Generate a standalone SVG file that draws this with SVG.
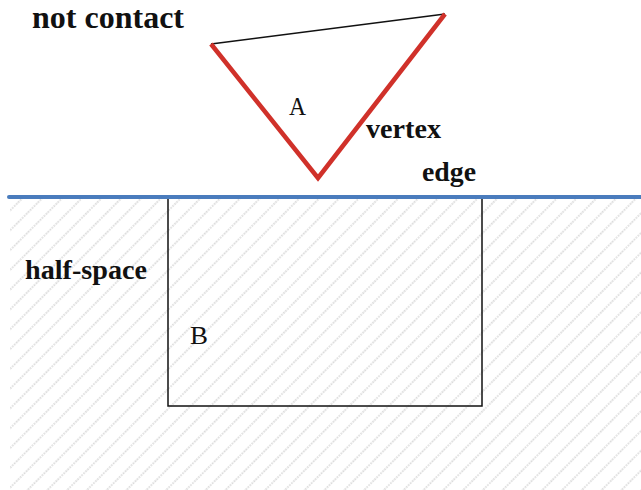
<svg xmlns="http://www.w3.org/2000/svg" width="641" height="490" viewBox="0 0 641 490">
<defs>
<pattern id="hatch" patternUnits="userSpaceOnUse" width="14" height="14" patternTransform="rotate(45)">
<line x1="2" y1="0" x2="2" y2="14" stroke="#d4d4d4" stroke-width="1.6" stroke-dasharray="1.6 1.2"/>
</pattern>
<style>
.b{font-family:"Liberation Serif",serif;font-weight:bold;fill:#111}
.n{font-family:"Liberation Serif",serif;fill:#111}
</style>
</defs>
<rect width="641" height="490" fill="#fff"/>
<rect id="halfspace" x="10" y="199" width="631" height="291" fill="url(#hatch)"/>
<g id="nodeB"><rect x="168" y="197" width="314" height="209" fill="none" stroke="#111" stroke-width="1.5"/>
<text class="n" x="190" y="344" font-size="25" textLength="18" lengthAdjust="spacingAndGlyphs">B</text></g>
<g id="nodeA">
<line x1="211" y1="44" x2="445" y2="14" stroke="#111" stroke-width="1.5"/>
<polyline points="211,44 318,178 445,14" fill="none" stroke="#d0312a" stroke-width="4.5" stroke-linejoin="miter"/>
<text class="n" x="289" y="115" font-size="25" textLength="17" lengthAdjust="spacingAndGlyphs">A</text></g>
<g id="connectors">
<line x1="9" y1="197" x2="641" y2="197" stroke="#4a7cbd" stroke-width="4" stroke-linecap="round"/>
</g>
<text class="b" x="32" y="28" font-size="32" textLength="152" lengthAdjust="spacingAndGlyphs">not contact</text>
<text class="b" x="366" y="138" font-size="28" textLength="75" lengthAdjust="spacingAndGlyphs">vertex</text>
<text class="b" x="422" y="181" font-size="28" textLength="54" lengthAdjust="spacingAndGlyphs">edge</text>
<text class="b" x="25" y="279" font-size="28" textLength="122" lengthAdjust="spacingAndGlyphs">half-space</text>
</svg>
